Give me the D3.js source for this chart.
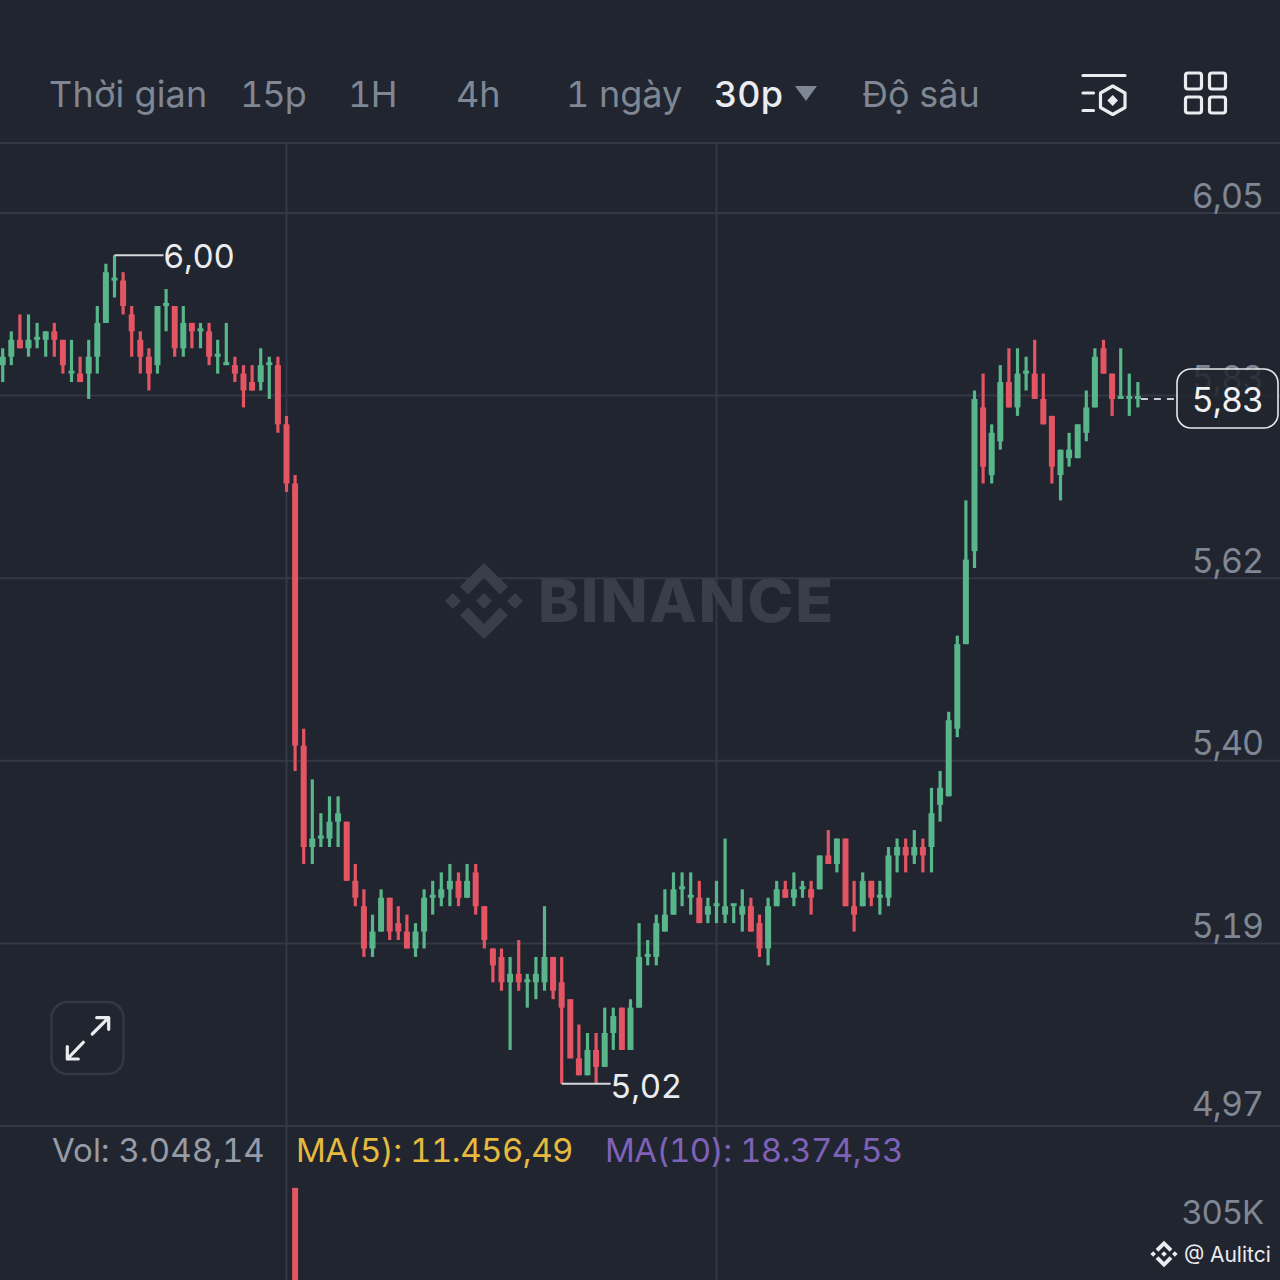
<!DOCTYPE html>
<html>
<head>
<meta charset="utf-8">
<script src="https://d3js.org/d3.v7.min.js"></script>
<style>
  html, body { margin: 0; padding: 0; background: #21252f; overflow: hidden; }
  svg { display: block; }
  text { font-family: Inter, "Noto Sans", sans-serif; font-variant-numeric: tabular-nums; }
</style>
</head>
<body>
<svg id="chart"></svg>
<script>
// candles, in price
var opens = [5.87,5.88,5.90,5.89,5.90,5.90,5.91,5.90,5.86,5.86,
  5.86,5.88,5.92,5.97,5.97,5.93,5.90,5.88,5.87,5.94,
  5.94,5.89,5.92,5.91,5.91,5.88,5.87,5.87,5.86,5.85,
  5.85,5.87,5.87,5.80,5.73,5.42,5.30,5.31,5.31,5.33,
  5.33,5.26,5.23,5.18,5.20,5.24,5.21,5.20,5.18,5.20,
  5.24,5.24,5.25,5.26,5.24,5.27,5.23,5.18,5.17,5.14,
  5.15,5.14,5.14,5.14,5.17,5.14,5.12,5.05,5.03,5.06,
  5.04,5.08,5.11,5.06,5.11,5.17,5.17,5.20,5.22,5.25,
  5.24,5.24,5.22,5.23,5.22,5.23,5.22,5.23,5.21,5.18,
  5.23,5.25,5.24,5.25,5.25,5.25,5.29,5.28,5.31,5.23,
  5.23,5.26,5.24,5.24,5.29,5.30,5.29,5.30,5.30,5.35,
  5.36,5.44,5.54,5.65,5.82,5.74,5.78,5.85,5.82,5.86,
  5.86,5.83,5.81,5.74,5.76,5.76,5.79,5.82,5.89,5.86,
  5.83,5.83,5.83];
var closes = [5.88,5.90,5.89,5.90,5.90,5.91,5.90,5.87,5.86,5.85,
  5.88,5.92,5.98,5.97,5.94,5.91,5.88,5.86,5.94,5.94,
  5.89,5.92,5.91,5.91,5.88,5.88,5.87,5.86,5.84,5.84,
  5.87,5.87,5.80,5.73,5.42,5.30,5.31,5.31,5.33,5.34,
  5.26,5.24,5.18,5.20,5.24,5.20,5.20,5.18,5.20,5.24,
  5.24,5.25,5.26,5.24,5.26,5.23,5.19,5.16,5.14,5.15,
  5.14,5.14,5.15,5.17,5.13,5.11,5.05,5.03,5.06,5.04,
  5.08,5.10,5.06,5.11,5.17,5.17,5.21,5.22,5.25,5.25,
  5.24,5.21,5.23,5.23,5.23,5.23,5.23,5.20,5.18,5.23,
  5.25,5.24,5.25,5.25,5.24,5.29,5.28,5.31,5.23,5.22,
  5.26,5.24,5.24,5.29,5.30,5.29,5.30,5.29,5.34,5.37,
  5.45,5.54,5.64,5.83,5.75,5.79,5.85,5.82,5.86,5.86,
  5.83,5.80,5.75,5.77,5.77,5.80,5.82,5.88,5.86,5.83,
  5.83,5.83,5.83];
var highs = [5.89,5.91,5.93,5.93,5.92,5.91,5.92,5.90,5.90,5.88,
  5.90,5.94,5.99,6.00,5.98,5.94,5.91,5.89,5.94,5.96,
  5.94,5.94,5.92,5.92,5.92,5.90,5.92,5.88,5.87,5.87,
  5.89,5.88,5.88,5.81,5.74,5.44,5.38,5.34,5.36,5.36,
  5.33,5.28,5.25,5.22,5.25,5.24,5.23,5.22,5.21,5.25,
  5.26,5.27,5.28,5.27,5.28,5.28,5.23,5.18,5.18,5.17,
  5.19,5.15,5.17,5.23,5.17,5.17,5.12,5.09,5.08,5.08,
  5.11,5.11,5.11,5.12,5.21,5.19,5.22,5.25,5.27,5.27,
  5.27,5.26,5.24,5.26,5.31,5.23,5.25,5.24,5.22,5.24,
  5.26,5.26,5.27,5.26,5.26,5.29,5.32,5.31,5.31,5.26,
  5.27,5.26,5.26,5.30,5.31,5.31,5.32,5.31,5.37,5.39,
  5.46,5.55,5.71,5.84,5.86,5.80,5.87,5.89,5.89,5.88,
  5.90,5.86,5.81,5.77,5.79,5.80,5.84,5.89,5.90,5.86,
  5.89,5.86,5.85];
var lows = [5.85,5.87,5.89,5.88,5.89,5.88,5.88,5.86,5.85,5.85,
  5.83,5.86,5.92,5.95,5.93,5.88,5.86,5.84,5.86,5.91,
  5.88,5.88,5.89,5.89,5.87,5.86,5.87,5.85,5.82,5.84,
  5.84,5.83,5.79,5.72,5.39,5.28,5.28,5.30,5.30,5.30,
  5.26,5.23,5.17,5.17,5.20,5.19,5.19,5.18,5.17,5.18,
  5.22,5.23,5.23,5.23,5.24,5.22,5.18,5.14,5.13,5.06,
  5.13,5.11,5.12,5.13,5.12,5.02,5.05,5.03,5.03,5.02,
  5.04,5.06,5.06,5.06,5.11,5.16,5.16,5.20,5.22,5.23,
  5.22,5.21,5.21,5.21,5.21,5.21,5.20,5.20,5.17,5.16,
  5.23,5.24,5.23,5.24,5.22,5.25,5.28,5.27,5.23,5.20,
  5.23,5.23,5.22,5.23,5.27,5.27,5.28,5.27,5.27,5.33,
  5.36,5.43,5.54,5.63,5.73,5.73,5.77,5.82,5.81,5.84,
  5.83,5.80,5.73,5.71,5.75,5.76,5.78,5.82,5.86,5.81,
  5.83,5.81,5.82];

var priceTicks = [6.05, 5.834, 5.618, 5.402, 5.186, 4.97];
var priceLabels = ["6,05", "5,83", "5,62", "5,40", "5,19", "4,97"];
var tabs = ["Thời gian", "15p", "1H", "4h", "1 ngày", "30p", "Độ sâu"];
var tabX = [49, 240, 348, 456, 566, 714, 862];
var tabSpacing = [0.2, -1, -0.5, 0, 0, 0, 0];
var timeGrid = [33, 83];       // candle index of the vertical grid lines
var volIndex = [34];           // only this bar reaches into the visible part
var volValues = [385];
var lastPrice = 5.83;

var W = 1280, H = 1280;
var bg = "#21252f", gridCol = "#333844", up = "#58b68a", down = "#e45564", dim = "#7f8794";

var svg = d3.select("#chart").attr("width", W).attr("height", H)
  .attr("viewBox", [0, 0, W, H]);
svg.append("rect").attr("width", W).attr("height", H).attr("fill", bg);

var x = d3.scaleLinear().domain([0, 132]).range([2.7, 1137.9]);
var y = d3.scaleLinear().domain([6.05, 4.97]).range([213, 1126]);
var yVol = d3.scaleLinear().domain([0, 305]).range([1304, 1212]);

// header line
svg.append("line").attr("x1", 0).attr("x2", W).attr("y1", 143).attr("y2", 143)
  .attr("stroke", gridCol).attr("stroke-width", 2);

// grid
svg.append("g").selectAll("line").data(priceTicks).join("line")
  .attr("x1", 0).attr("x2", W)
  .attr("y1", d => y(d)).attr("y2", d => y(d))
  .attr("stroke", gridCol).attr("stroke-width", 2);
svg.append("g").selectAll("line").data(timeGrid).join("line")
  .attr("x1", d => x(d)).attr("x2", d => x(d))
  .attr("y1", 144).attr("y2", H)
  .attr("stroke", gridCol).attr("stroke-width", 2);

// watermark
function logo(g, fill) {
  var polys = [
    [[0,-38],[24,-14.5],[16,-6.5],[0,-23],[-16,-6.5],[-24,-14.5]],
    [[0,38],[24,14.5],[16,6.5],[0,23],[-16,6.5],[-24,14.5]],
    [[0,-8],[8,0],[0,8],[-8,0]],
    [[-31,-8],[-23,0],[-31,8],[-39,0]],
    [[31,-8],[39,0],[31,8],[23,0]]
  ];
  g.selectAll("polygon").data(polys).join("polygon")
    .attr("points", d => d.join(" ")).attr("fill", fill);
}
logo(svg.append("g").attr("transform", "translate(484,601)"), "#393e48");
svg.append("text").attr("transform", "translate(538,622) scale(1.05,1)")
  .attr("font-size", 59).attr("font-weight", 800).attr("fill", "#393e48")
  .attr("textLength", 281).attr("lengthAdjust", "spacing").text("BINANCE");

// candles
var idx = d3.range(opens.length);
var candles = svg.append("g");
candles.selectAll("line").data(idx).join("line")
  .attr("x1", i => x(i)).attr("x2", i => x(i))
  .attr("y1", i => y(highs[i])).attr("y2", i => y(lows[i]))
  .attr("stroke", i => closes[i] >= opens[i] ? up : down)
  .attr("stroke-width", 3.2);
candles.selectAll("rect").data(idx).join("rect")
  .attr("x", i => x(i) - 3).attr("width", 6)
  .attr("y", i => {
    var h = Math.abs(y(opens[i]) - y(closes[i]));
    return h < 3 ? y(opens[i]) - 3 : Math.min(y(opens[i]), y(closes[i]));
  })
  .attr("height", i => Math.max(3, Math.abs(y(opens[i]) - y(closes[i]))))
  .attr("fill", i => closes[i] >= opens[i] ? up : down);

// high / low callouts
var hiI = d3.maxIndex(highs), loI = d3.minIndex(lows);
function callout(i, val, yy, label) {
  svg.append("line").attr("x1", x(i)).attr("x2", x(i) + 49)
    .attr("y1", y(val)).attr("y2", y(val))
    .attr("stroke", "#d5d8dd").attr("stroke-width", 2);
  svg.append("text").attr("x", x(i) + 48.5).attr("y", yy)
    .attr("font-size", 33).attr("letter-spacing", -0.4)
    .attr("fill", "#eaecef").text(label);
}
callout(hiI, highs[hiI], 268, "6,00");
callout(loI, lows[loI], 1098, "5,02");

// price axis labels
var labelY = [208, 390, 573, 755, 938, 1116];
svg.append("g").selectAll("text").data(priceLabels).join("text")
  .attr("x", 1263).attr("y", (d, i) => labelY[i])
  .attr("text-anchor", "end").attr("font-size", 34).attr("letter-spacing", -1)
  .attr("fill", dim).text(d => d);

// last price tag, the axis label stays faintly visible through it
svg.append("line").attr("x1", x(132) + 3).attr("x2", 1177)
  .attr("y1", y(lastPrice)).attr("y2", y(lastPrice))
  .attr("stroke", "#c9ccd1").attr("stroke-width", 2).attr("stroke-dasharray", "7 6");
svg.append("rect").attr("x", 1177).attr("y", 369).attr("width", 101).attr("height", 59)
  .attr("rx", 14).attr("fill", bg).attr("fill-opacity", 0.86)
  .attr("stroke", "#e6e8ea").attr("stroke-width", 1.6);
svg.append("text").attr("x", 1263).attr("y", 412).attr("text-anchor", "end")
  .attr("font-size", 34).attr("letter-spacing", -1).attr("fill", "#f0f1f3").text("5,83");

// tabs
svg.append("g").selectAll("text").data(tabs).join("text")
  .attr("x", (d, i) => tabX[i]).attr("y", 107)
  .attr("font-size", 36)
  .attr("letter-spacing", (d, i) => tabSpacing[i])
  .attr("font-weight", d => d === "30p" ? 500 : 400)
  .attr("fill", d => d === "30p" ? "#eaecef" : dim)
  .text(d => d);
svg.append("polygon").attr("points", "795,86 817,86 806,101").attr("fill", dim);

// top right icons
var ico = svg.append("g").attr("fill", "none").attr("stroke", "#eaecef")
  .attr("stroke-width", 3.2).attr("stroke-linecap", "round");
ico.append("path").attr("d", "M1083,75.5H1125M1083,93H1093.5M1083,110.5H1093.5");
ico.append("path").attr("d", "M1112.7,86L1125,93V107.5L1112.7,114.5L1100.5,107.5V93Z")
  .attr("stroke-linejoin", "round");
ico.append("path").attr("d", "M1112.7,95L1118,100.5L1112.7,106L1107.4,100.5Z")
  .attr("fill", "#eaecef").attr("stroke", "none");
[[1185.5, 73], [1209.5, 73], [1185.5, 97], [1209.5, 97]].forEach(function(p) {
  ico.append("rect").attr("x", p[0]).attr("y", p[1]).attr("width", 16).attr("height", 16)
    .attr("rx", 2.5);
});

// expand button
svg.append("rect").attr("x", 51.5).attr("y", 1002).attr("width", 72).attr("height", 72)
  .attr("rx", 16).attr("fill", bg).attr("stroke", gridCol).attr("stroke-width", 2.6);
svg.append("path")
  .attr("d", "M92.3,1034L108.7,1017.7M96.7,1017.7H108.7V1029.3M83.3,1042.3L67.3,1059M67.3,1046.7V1059H78.3")
  .attr("fill", "none").attr("stroke", "#eaecef").attr("stroke-width", 3.2)
  .attr("stroke-linecap", "round").attr("stroke-linejoin", "round");

// volume panel
svg.append("g").selectAll("rect").data(volIndex).join("rect")
  .attr("x", i => x(i) - 3).attr("width", 6)
  .attr("y", (d, i) => yVol(volValues[i]))
  .attr("height", (d, i) => yVol(0) - yVol(volValues[i]))
  .attr("fill", down);
var legend = [
  ["Vol: 3.048,14", 52, "#959ca8", 0],
  ["MA(5): 11.456,49", 296, "#e6b93f", -0.5],
  ["MA(10): 18.374,53", 605, "#7e62b8", -0.5]
];
svg.append("g").selectAll("text").data(legend).join("text")
  .attr("x", d => d[1]).attr("y", 1162).attr("font-size", 33)
  .attr("letter-spacing", d => d[3])
  .attr("fill", d => d[2]).text(d => d[0]);
svg.append("text").attr("x", 1263).attr("y", 1224).attr("text-anchor", "end")
  .attr("font-size", 33).attr("letter-spacing", -1.2).attr("fill", dim).text("305K");

// small source mark
logo(svg.append("g").attr("transform", "translate(1164,1254) scale(0.35)"), "#eaecef");
svg.append("text").attr("x", 1184).attr("y", 1262).attr("font-size", 21)
  .attr("fill", "#eaecef").text("@ Aulitci");
</script>
</body>
</html>
